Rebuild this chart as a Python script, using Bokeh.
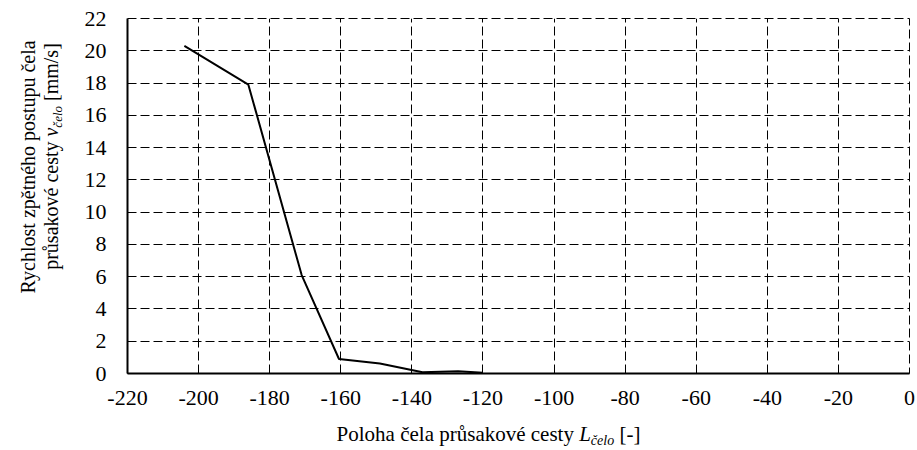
import math
from bokeh.plotting import figure
from bokeh.models import Range1d, FixedTicker, Label, CustomJSTickFormatter
from bokeh.layouts import row, column
from bokeh.embed import file_html
from bokeh.resources import INLINE

# ---- data ----
x_pos = [-204, -186, -171, -160.5, -149, -137, -127, -120]
v_celo = [20.3, 17.9, 6.1, 0.9, 0.62, 0.08, 0.14, 0.05]
x_ticks = [-220, -200, -180, -160, -140, -120, -100, -80, -60, -40, -20, 0]
y_ticks = [0, 2, 4, 6, 8, 10, 12, 14, 16, 18, 20, 22]

FONT = "Liberation Serif"
W, H = 917, 450
LW = 70            # width of the strip holding the y title
BH = 30            # height of the strip holding the x title
L, R, T = 127, 8, 18
FRAME_BOTTOM = 373
X0, X1, Y0, Y1 = -220, 0, 0, 22

MW, MH = W - LW, H - BH
p = figure(width=MW, height=MH, output_backend="svg", toolbar_location=None,
           x_range=Range1d(X0, X1), y_range=Range1d(Y0, Y1),
           min_border_left=L - LW, min_border_right=R, min_border_top=T,
           min_border_bottom=MH - FRAME_BOTTOM)
p.outline_line_color = "black"
p.outline_line_dash = "9 4"
p.outline_line_width = 1
p.background_fill_color = "white"
p.border_fill_color = "white"

for ax, ticks in ((p.xaxis, x_ticks), (p.yaxis, y_ticks)):
    ax.ticker = FixedTicker(ticks=ticks)
    ax.formatter = CustomJSTickFormatter(code="return tick.toFixed(0);")
    ax.major_tick_out = 0
    ax.major_tick_in = 0
    ax.minor_tick_out = 0
    ax.minor_tick_in = 0
    ax.axis_line_color = "black"
    ax.axis_line_width = 2
    ax.major_label_text_font = FONT
    ax.major_label_text_font_size = "22px"
    ax.major_label_text_color = "black"
p.xaxis.major_label_standoff = 17
p.yaxis.major_label_standoff = 21

for g in (p.xgrid, p.ygrid):
    g.grid_line_color = "black"
    g.grid_line_dash = "9 4"
    g.grid_line_width = 1
    g.grid_line_alpha = 1.0

p.line(x_pos, v_celo, line_color="black", line_width=2)


def strip(w, h, fx0, fx1, fy0, fy1, bl=0, br=0):
    # frame spans page pixels fx0..fx1 (x) and fy0..fy1 (y, downward)
    f = figure(width=w, height=h, output_backend="svg", toolbar_location=None,
               x_range=Range1d(fx0, fx1), y_range=Range1d(fy1, fy0),
               x_axis_location=None, y_axis_location=None,
               min_border=0, min_border_left=bl, min_border_right=br,
               min_border_top=0, min_border_bottom=0)
    f.grid.visible = False
    f.outline_line_color = None
    f.background_fill_color = "white"
    f.border_fill_color = "white"
    return f


left = strip(LW, H, 0, LW, 0, H)
bottom = strip(MW, BH, L, W - R, MH, H, bl=L - LW, br=R)

# ---- axis titles built from text runs ----
RW = {'P': .556, 'o': .5, 'l': .278, 'h': .5, 'a': .444, ' ': .25, 'č': .444, 'e': .444,
      'p': .5, 'r': .333, 'ů': .5, 's': .389, 'k': .5, 'v': .5, 'é': .444, 'c': .444,
      't': .278, 'y': .5, '[': .333, '-': .333, ']': .333, 'R': .667, 'z': .444, 'ě': .444,
      'n': .5, 'u': .5, 'm': .778, '/': .278}
IW = {'L': .556, 'v': .444, 'č': .444, 'e': .444, 'l': .278, 'o': .5}
MID = 0.3375   # distance from baseline to text-box middle, in em


def tw(s, italic, size):
    tab = IW if italic else RW
    return sum(tab.get(c, .5) for c in s) * size


def runs(fig, parts, start, base, vertical):
    """base = baseline position (page px); subscript parts carry a baseline shift."""
    pos = start
    for text, italic, size, shift in parts:
        lead = len(text) - len(text.lstrip(" "))
        core = text.strip(" ")
        adv_lead = tw(" " * lead, italic, size)
        adv_core = tw(core, italic, size)
        adv_tail = tw(" " * (len(text.rstrip(" ")) and len(text) - len(text.rstrip(" "))), italic, size)
        pos += -adv_lead if vertical else adv_lead
        mid = base + shift - MID * size
        if vertical:
            x, y, ang = mid, pos, math.pi / 2
        else:
            x, y, ang = pos, mid, 0
        fig.add_layout(Label(x=x, y=y, text=core, angle=ang,
                             text_font=FONT, text_font_size=f"{size}px",
                             text_font_style="italic" if italic else "normal",
                             text_align="left", text_baseline="middle",
                             text_color="black"))
        step = adv_core + adv_tail
        pos += -step if vertical else step


def total(parts):
    return sum(tw(t, i, s) for t, i, s, _ in parts)


XF, XS = 21, 14
xparts = [("Poloha čela průsakové cesty ", False, XF, 0), ("L", True, XF, 0),
          ("čelo", True, XS, 4), (" [-]", False, XF, 0)]
runs(bottom, xparts, 488 - total(xparts) / 2, 441, False)

YF, YS = 20, 13
line1 = [("Rychlost zpětného postupu čela", False, YF, 0)]
runs(left, line1, 166 + total(line1) / 2, 34, True)
line2 = [("průsakové cesty ", False, YF, 0), ("v", True, YF, 0),
         ("čelo", True, YS, 4), (" [mm/s]", False, YF, 0)]
runs(left, line2, 156 + total(line2) / 2, 57, True)

layout = row(left, column(p, bottom, spacing=0), spacing=0)
open("out.html", "w").write(file_html(layout, INLINE))
